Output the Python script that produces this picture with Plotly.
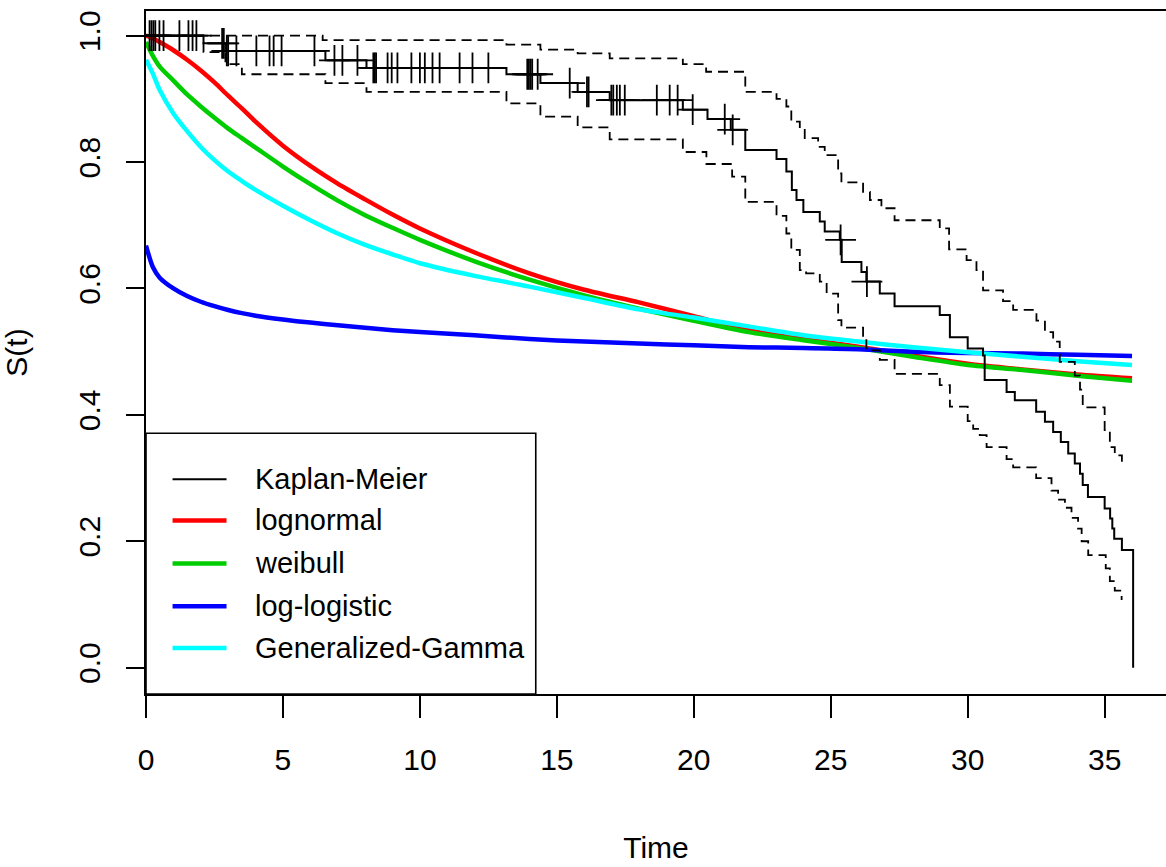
import numpy as np
import plotly.graph_objects as go

# ---------------- data ----------------
# Kaplan-Meier estimate: time of each step and survival after the step
km_time = [0, 2.1, 2.9, 6.55, 8.05, 13.16, 14.4, 15.76, 16.93, 19.6,
           20.5, 21.35, 21.88, 23.02, 23.38, 23.58, 23.75, 24.0, 24.6, 24.78,
           25.33, 25.4, 26.12, 26.3, 26.79, 27.33, 28.98, 29.35, 30.0, 30.56,
           30.62, 31.42, 31.72, 32.5, 32.82, 33.12, 33.4, 33.67, 33.91, 34.1,
           34.2, 34.39, 35.0, 35.2, 35.28, 35.35, 35.63, 36.04]
km_surv = [1.0, 0.988, 0.976, 0.961, 0.949, 0.939, 0.925, 0.911, 0.898, 0.883,
           0.868, 0.851, 0.819, 0.805, 0.785, 0.756, 0.740, 0.721, 0.706, 0.690,
           0.677, 0.642, 0.626, 0.611, 0.592, 0.572, 0.558, 0.523, 0.505, 0.494,
           0.455, 0.436, 0.423, 0.405, 0.389, 0.373, 0.357, 0.339, 0.323, 0.307,
           0.289, 0.270, 0.252, 0.236, 0.220, 0.204, 0.186, 0.0]

# censoring times (marked with +)
censor_time = [0.13, 0.2, 0.27, 0.34, 0.49, 0.64, 1.22, 1.55, 1.70, 1.84,
               2.78, 2.84, 2.95, 3.0, 3.30, 4.03, 4.51, 4.66, 4.95, 6.15,
               6.88, 7.17, 7.72, 8.3, 8.35, 8.4, 8.82, 8.97, 9.18, 9.69,
               10.0, 10.18, 10.46, 10.72, 11.45, 11.92, 12.5, 13.92, 13.98, 14.04,
               14.10, 14.3, 15.47, 16.1, 16.16, 16.99, 17.06, 17.19, 17.3, 17.48,
               18.65, 19.12, 19.41, 19.96, 21.13, 21.42, 25.36, 26.32]

# 95% confidence band of the KM estimate
ci_upper_time = [0, 6.45, 13.16, 14.4, 15.76, 16.93, 19.6, 20.45, 21.88, 23.02,
                 23.38, 23.56, 23.87, 24.05, 24.54, 24.78, 25.27, 25.39, 26.18, 26.43,
                 26.85, 27.33, 28.98, 29.32, 29.96, 30.32, 30.56, 31.29, 31.66, 32.51,
                 32.82, 33.12, 33.36, 33.91, 34.1, 34.2, 35.0, 35.19, 35.37, 35.63]
ci_upper = [1.0, 0.993, 0.986, 0.978, 0.972, 0.964, 0.955, 0.943, 0.911, 0.900,
            0.888, 0.864, 0.851, 0.838, 0.824, 0.811, 0.782, 0.768, 0.753, 0.740,
            0.727, 0.708, 0.695, 0.662, 0.645, 0.629, 0.597, 0.580, 0.566, 0.549,
            0.531, 0.516, 0.484, 0.462, 0.440, 0.412, 0.376, 0.349, 0.336, 0.325]
ci_lower_time = [0, 2.1, 2.9, 3.5, 6.55, 8.05, 13.16, 14.4, 15.76, 16.93,
                 19.6, 20.46, 21.4, 21.88, 23.02, 23.38, 23.56, 23.87, 24.1, 24.6,
                 24.85, 25.27, 25.39, 26.18, 26.3, 26.79, 27.33, 28.98, 29.35, 30.0,
                 30.2, 30.44, 30.69, 31.42, 31.66, 32.5, 33.06, 33.3, 33.55, 33.79,
                 34.03, 34.16, 34.4, 35.04, 35.19, 35.37, 35.62]
ci_lower = [1.0, 0.974, 0.955, 0.939, 0.925, 0.911, 0.893, 0.872, 0.855, 0.836,
            0.816, 0.797, 0.777, 0.737, 0.715, 0.687, 0.661, 0.629, 0.624, 0.611,
            0.592, 0.550, 0.538, 0.521, 0.502, 0.487, 0.465, 0.447, 0.413, 0.390,
            0.378, 0.368, 0.349, 0.330, 0.317, 0.300, 0.280, 0.266, 0.253, 0.237,
            0.220, 0.200, 0.178, 0.157, 0.137, 0.122, 0.107]

# parametric fits
fit_time = [0, 0.25, 0.5, 1, 1.5, 2, 2.5, 3, 3.5, 4, 5, 6, 7, 8, 9, 10,
            12, 14, 16, 18, 20, 22, 24, 26, 28, 30, 32, 34, 36]
s_lognormal = [1.000, 0.996, 0.990, 0.977, 0.962, 0.945, 0.926, 0.905, 0.885, 0.864,
               0.826, 0.794, 0.766, 0.741, 0.717, 0.695, 0.657, 0.624, 0.598, 0.578,
               0.556, 0.534, 0.520, 0.508, 0.494, 0.481, 0.472, 0.464, 0.458]
s_weibull = [0.990, 0.968, 0.951, 0.929, 0.907, 0.888, 0.870, 0.853, 0.838, 0.823,
             0.793, 0.765, 0.739, 0.716, 0.696, 0.677, 0.643, 0.614, 0.589, 0.568,
             0.549, 0.531, 0.518, 0.506, 0.492, 0.479, 0.471, 0.462, 0.454]
s_loglogistic = [0.668, 0.634, 0.617, 0.600, 0.588, 0.579, 0.572, 0.566, 0.561, 0.557,
                 0.551, 0.546, 0.542, 0.538, 0.534, 0.531, 0.526, 0.520, 0.516, 0.513,
                 0.510, 0.507, 0.506, 0.504, 0.500, 0.498, 0.497, 0.495, 0.493]
s_gengamma = [0.962, 0.940, 0.914, 0.877, 0.849, 0.824, 0.803, 0.785, 0.770, 0.756,
              0.731, 0.708, 0.687, 0.669, 0.654, 0.640, 0.620, 0.603, 0.585, 0.567,
              0.554, 0.540, 0.526, 0.516, 0.507, 0.499, 0.492, 0.485, 0.479]

legend_labels = ["Kaplan-Meier", "lognormal", "weibull", "log-logistic", "Generalized-Gamma"]
legend_colors = ["black", "#FF0000", "#00CD00", "#0000FF", "#00FFFF"]

x_ticks = [0, 5, 10, 15, 20, 25, 30, 35]
y_ticks = [0.0, 0.2, 0.4, 0.6, 0.8, 1.0]

# ---------------- figure ----------------
FONT = "Liberation Sans, Arial, sans-serif"
fig = go.Figure()

fit_series = [s_lognormal, s_weibull, s_loglogistic, s_gengamma]
for vals, col, name in zip(fit_series, legend_colors[1:], legend_labels[1:]):
    fig.add_trace(go.Scatter(x=fit_time, y=vals, mode="lines", name=name,
                             line=dict(color=col, width=4.5, shape="spline", smoothing=0.8)))

dash = "10px,6px"
fig.add_trace(go.Scatter(x=ci_upper_time, y=ci_upper, mode="lines", line_shape="hv",
                         line=dict(color="black", width=1.8, dash=dash)))
fig.add_trace(go.Scatter(x=ci_lower_time, y=ci_lower, mode="lines", line_shape="hv",
                         line=dict(color="black", width=1.8, dash=dash)))
fig.add_trace(go.Scatter(x=km_time, y=km_surv, mode="lines", line_shape="hv",
                         line=dict(color="black", width=2)))

km_t = np.array(km_time)
km_s = np.array(km_surv)
idx = np.searchsorted(km_t, np.array(censor_time), side="right") - 1
fig.add_trace(go.Scatter(x=censor_time, y=km_s[idx], mode="markers",
                         marker=dict(symbol="cross-thin", size=22,
                                     line=dict(width=1.8, color="black"))))

# legend box (drawn like R's legend())
leg_x1 = 14.23
leg_top = 0.371
y_bottom = -0.0417
row_y = [0.298, 0.233, 0.165, 0.097, 0.031]
fig.add_shape(type="rect", xref="x", yref="y", x0=0, x1=leg_x1, y0=y_bottom, y1=leg_top,
              line=dict(color="black", width=1.6), fillcolor="rgba(0,0,0,0)", layer="above")
for i, (lab, col) in enumerate(zip(legend_labels, legend_colors)):
    fig.add_shape(type="line", xref="x", yref="y", x0=0.97, x1=2.94, y0=row_y[i], y1=row_y[i],
                  line=dict(color=col, width=2 if i == 0 else 4.5))
    fig.add_annotation(x=3.91, y=row_y[i], xref="x", yref="y", text=lab, showarrow=False,
                       xanchor="left", yanchor="middle",
                       font=dict(family=FONT, size=29, color="black"))

fig.update_layout(
    width=1166, height=867,
    margin=dict(l=146, r=0, t=11, b=173),
    paper_bgcolor="white", plot_bgcolor="white",
    showlegend=False,
    font=dict(family=FONT, size=30, color="black"),
)
fig.update_xaxes(range=[0, 37.24], tickvals=x_ticks, ticktext=[str(v) for v in x_ticks],
                 ticks="outside", ticklen=22, tickwidth=1.5, tickcolor="black",
                 showline=True, linecolor="black", linewidth=2, mirror=True,
                 showgrid=False, zeroline=False, ticklabelstandoff=16,
                 title=dict(text="Time", standoff=62, font=dict(family=FONT, size=30)))
fig.update_yaxes(range=[y_bottom, 1.0391], tickvals=y_ticks,
                 ticktext=["%.1f" % v for v in y_ticks], tickangle=-90,
                 ticks="outside", ticklen=18, tickwidth=1.5, tickcolor="black",
                 showline=True, linecolor="black", linewidth=2, mirror=False,
                 showgrid=False, zeroline=False, ticklabelstandoff=14,
                 title=dict(text="S(t)", standoff=37, font=dict(family=FONT, size=30)))

fig.write_html("out.html")
